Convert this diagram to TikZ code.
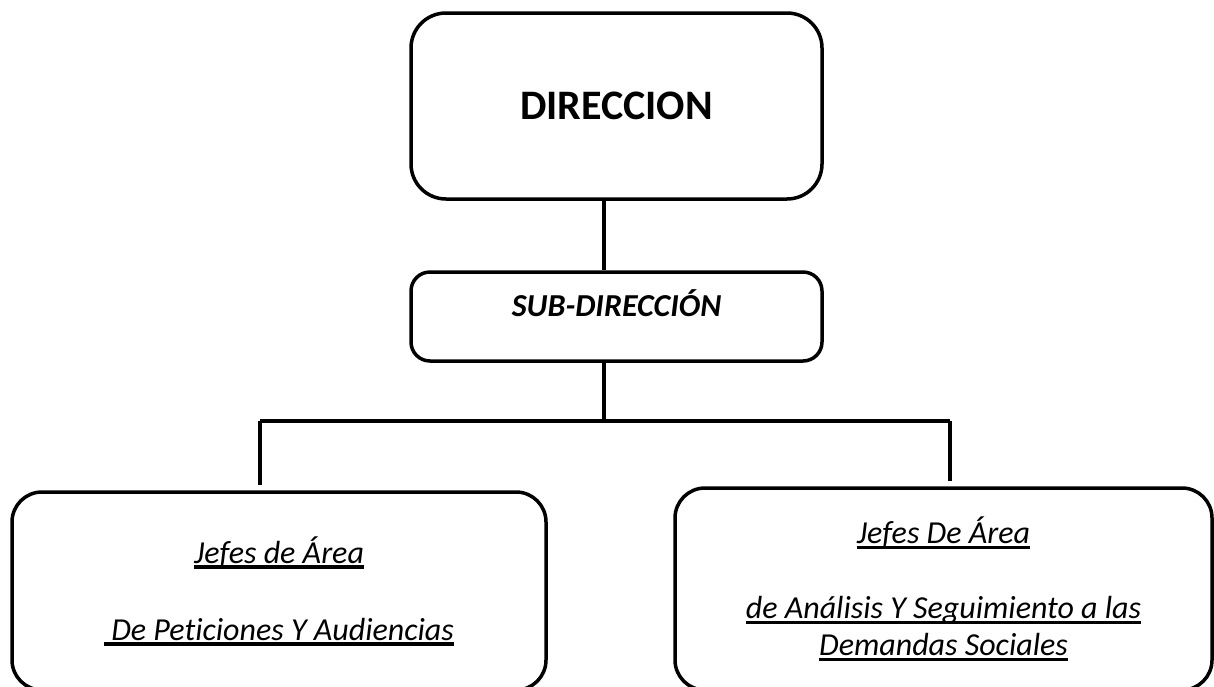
\documentclass[tikz,border=0pt]{standalone}
\usepackage{fontspec}
\setmainfont[Ligatures={NoCommon}]{Carlito}
\usepackage{tikz}
\usetikzlibrary{positioning,calc}
\newcommand{\undl}[1]{\leavevmode\setbox0=\hbox{#1}\rlap{\copy0}\rule[-5.5pt]{\wd0}{3.5pt}}
\tikzset{%
  every unit/.style={
    rectangle,
    draw,
    line width=3.5pt,
    align=center,
    inner sep=0pt
  },
  unit top/.style={
    rounded corners=35pt,
    minimum width=411pt,
    minimum height=186pt,
    font=\fontsize{42}{50}\selectfont\bfseries
  },
  unit sub/.style={
    rounded corners=19pt,
    minimum width=411pt,
    minimum height=89pt,
    text height=20pt,
    text depth=20pt,
    font=\fontsize{32}{38}\selectfont\bfseries\itshape
  },
  unit area/.style={
    rounded corners=30pt,
    font=\fontsize{32}{37}\selectfont\itshape
  },
  link/.style={
    line width=3.5pt
  },
}

\begin{document}
\begin{tikzpicture}[x=1pt, y=-1pt]

\useasboundingbox (0,0) rectangle (1214,686);

\node [every unit, unit top] (direccion) at (616.5,106) {DIRECCION};
\node [every unit, unit sub] (subdir) at (616.5,316.5) {SUB-DIRECCIÓN};

\node [every unit, unit area, minimum width=534pt, minimum height=198pt] (area-1) at (279,591)
  {\undl{Jefes de Área}\\[40pt]\undl{\ De Peticiones Y Audiencias}};
\node [every unit, unit area, minimum width=537pt, minimum height=202pt] (area-2) at (943.5,589)
  {\undl{Jefes De Área}\\[38pt]\undl{de Análisis Y Seguimiento a las}\\\undl{Demandas Sociales}};

% bar between the two areas
\coordinate (bar) at (604,421);
\coordinate (bar-1) at (260,421);
\coordinate (bar-2) at (950,421);

\draw [link] (direccion.south -| bar) -- (subdir.north -| bar);
\draw [link] (subdir.south -| bar) -- (bar);
\draw [link] (bar-1) -- (bar-2);
\foreach \i in {1,2}
  \draw [link, shorten >=5pt] (bar-\i) -- (bar-\i |- area-\i.north);

\end{tikzpicture}
\end{document}
